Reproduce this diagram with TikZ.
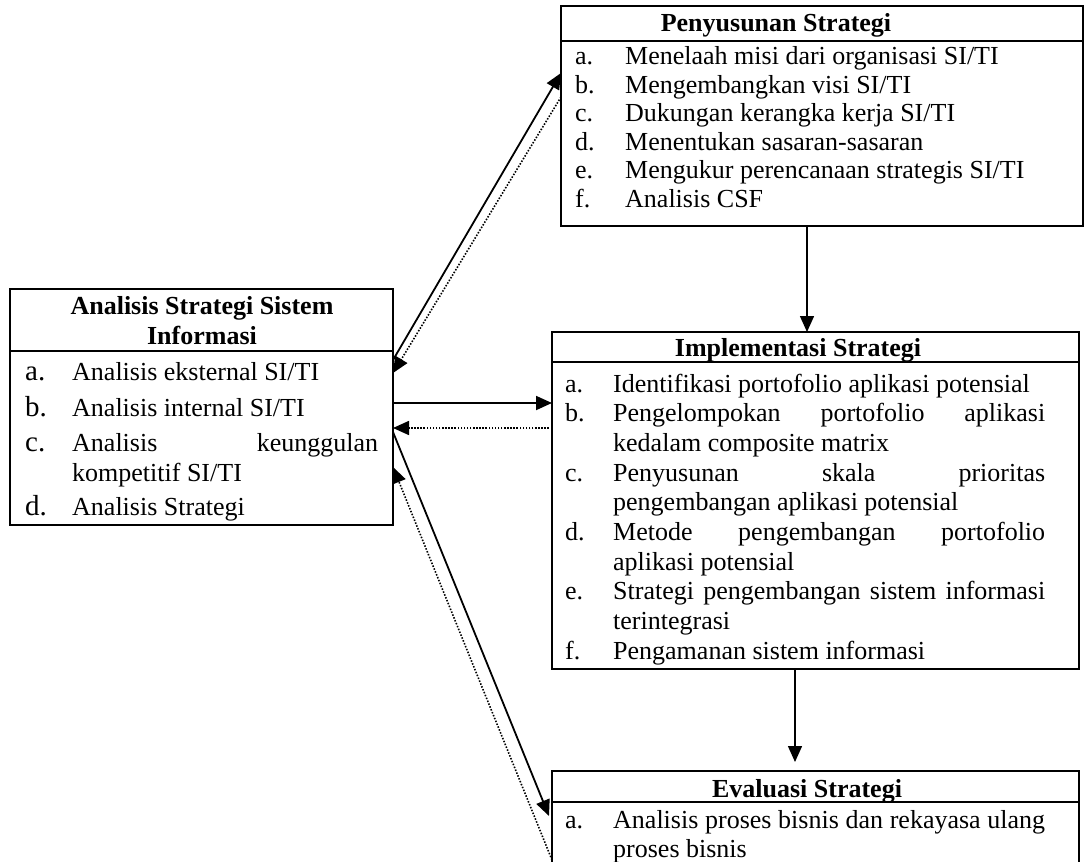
\documentclass[tikz,border=0pt]{standalone}
\usepackage{fontspec}
\setmainfont{Liberation Serif}
\usetikzlibrary{arrows.meta}
\begin{document}
\begin{tikzpicture}[x=1pt,y=-1pt,
  box/.style={draw, line width=1.2pt, anchor=north west, inner sep=0pt, outer sep=0pt},
  sepline/.style={line width=1.2pt},
  ttl/.style={font=\fontsize{26}{30}\selectfont\bfseries, anchor=base, inner sep=0pt},
  itm/.style={font=\fontsize{26}{30}\selectfont, anchor=base west, inner sep=0pt},
  biglbl/.style={font=\fontsize{29}{34}\selectfont, anchor=base west, inner sep=0pt},
  tipstyle/.style={-{Triangle[length=16pt,width=14pt]}},
  solidarrow/.style={line width=1.8pt, tipstyle},
  vertarrow/.style={line width=1.5pt, tipstyle},
  dotarrow/.style={line width=1.6pt, dash pattern=on 1.5pt off 1.6pt, tipstyle},
]
\useasboundingbox (0,0) rectangle (1085,862);
\clip (0,0) rectangle (1085,862);

% ---------- boxes ----------
\node[box, minimum width=522pt, minimum height=220pt] (P) at (561,6) {};
\node[box, minimum width=383pt, minimum height=236pt] (L) at (10,289) {};
\node[box, minimum width=527pt, minimum height=337pt] (I) at (552,332) {};
\node[box, minimum width=527pt, minimum height=150pt] (E) at (552,771) {};

\draw[sepline] ([yshift=-35pt]P.north west) -- ([yshift=-35pt]P.north east);
\draw[sepline] ([yshift=-62pt]L.north west) -- ([yshift=-62pt]L.north east);
\draw[sepline] ([yshift=-30pt]I.north west) -- ([yshift=-30pt]I.north east);
\draw[sepline] ([yshift=-31pt]E.north west) -- ([yshift=-31pt]E.north east);

% ---------- titles ----------
\node[ttl] (Pt) at (776,31) {Penyusunan Strategi};
\node[ttl] (Lt1) at (202,314) {Analisis Strategi Sistem};
\node[ttl] (Lt2) at (202,344) {Informasi};
\node[ttl] (It) at (798,356) {Implementasi Strategi};
\node[ttl] (Et) at (807,797) {Evaluasi Strategi};

% ---------- Penyusunan items ----------
\node[itm] (Pa) at (575,64.5) {a.};  \node[itm] (Pat) at (625,64.5) {Menelaah misi dari organisasi SI/TI};
\node[itm] (Pb) at (575,93)   {b.};  \node[itm] (Pbt) at (625,93)   {Mengembangkan visi SI/TI};
\node[itm] (Pc) at (575,121.5){c.};  \node[itm] (Pct) at (625,121.5){Dukungan kerangka kerja SI/TI};
\node[itm] (Pd) at (575,150)  {d.};  \node[itm] (Pdt) at (625,150)  {Menentukan sasaran-sasaran};
\node[itm] (Pe) at (575,178.5){e.};  \node[itm] (Pet) at (625,178.5){Mengukur perencanaan strategis SI/TI};
\node[itm] (Pf) at (575,207)  {f.};  \node[itm] (Pft) at (625,207)  {Analisis CSF};

% ---------- Analisis items ----------
\node[biglbl] (La) at (25,380) {a.}; \node[itm] (Lat) at (72,380) {Analisis eksternal SI/TI};
\node[biglbl] (Lb) at (25,416) {b.}; \node[itm] (Lbt) at (72,416) {Analisis internal SI/TI};
\node[biglbl] (Lc) at (25,451) {c.}; \node[itm] (Lct) at (72,451) {\makebox[306pt][s]{Analisis keunggulan}};
\node[itm] (Lct2) at (72,481) {kompetitif SI/TI};
\node[biglbl] (Ld) at (25,515) {d.}; \node[itm] (Ldt) at (72,515) {Analisis Strategi};

% ---------- Implementasi items ----------
\node[itm] (Ia) at (565,392)   {a.}; \node[itm] (Iat) at (613,392) {Identifikasi portofolio aplikasi potensial};
\node[itm] (Ib) at (565,421.7) {b.}; \node[itm] (Ibt) at (613,421.7) {\makebox[432pt][s]{Pengelompokan portofolio aplikasi}};
\node[itm] (Ibt2) at (613,451.4) {kedalam composite matrix};
\node[itm] (Ic) at (565,481.1) {c.}; \node[itm] (Ict) at (613,481.1) {\makebox[432pt][s]{Penyusunan skala prioritas}};
\node[itm] (Ict2) at (613,510.8) {pengembangan aplikasi potensial};
\node[itm] (Id) at (565,540.5) {d.}; \node[itm] (Idt) at (613,540.5) {\makebox[432pt][s]{Metode pengembangan portofolio}};
\node[itm] (Idt2) at (613,570.2) {aplikasi potensial};
\node[itm] (Ie) at (565,599.9) {e.}; \node[itm] (Iet) at (613,599.9) {\makebox[432pt][s]{Strategi pengembangan sistem informasi}};
\node[itm] (Iet2) at (613,629.6) {terintegrasi};
\node[itm] (If) at (565,659.3) {f.}; \node[itm] (Ift) at (613,659.3) {Pengamanan sistem informasi};

% ---------- Evaluasi items ----------
\node[itm] (Ea) at (565,828) {a.}; \node[itm] (Eat) at (613,828) {\makebox[432pt][s]{Analisis proses bisnis dan rekayasa ulang}};
\node[itm] (Eat2) at (613,857) {proses bisnis};

% ---------- connectors ----------
\draw[solidarrow] ([yshift=-71pt]L.north east) -- ([yshift=-67pt]P.north west);
\draw[dotarrow]   ([yshift=-91pt]P.north west) -- ([yshift=-84pt]L.north east);
\draw[solidarrow] ([yshift=-114pt]L.north east) -- ([yshift=-71pt]I.north west);
\draw[dotarrow]   ([yshift=-96pt]I.north west) -- ([yshift=-139pt]L.north east);
\draw[solidarrow] ([yshift=-143pt]L.north east) -- ([xshift=-3pt,yshift=-45pt]E.north west);
\draw[dotarrow]   ([yshift=-89pt]E.north west) -- ([yshift=-178pt]L.north east);

\draw[vertarrow] ([xshift=246pt]P.south west) -- ([xshift=255pt]I.north west);
\draw[vertarrow] ([xshift=243pt]I.south west) -- ([xshift=243pt,yshift=9pt]E.north west);
\end{tikzpicture}
\end{document}
